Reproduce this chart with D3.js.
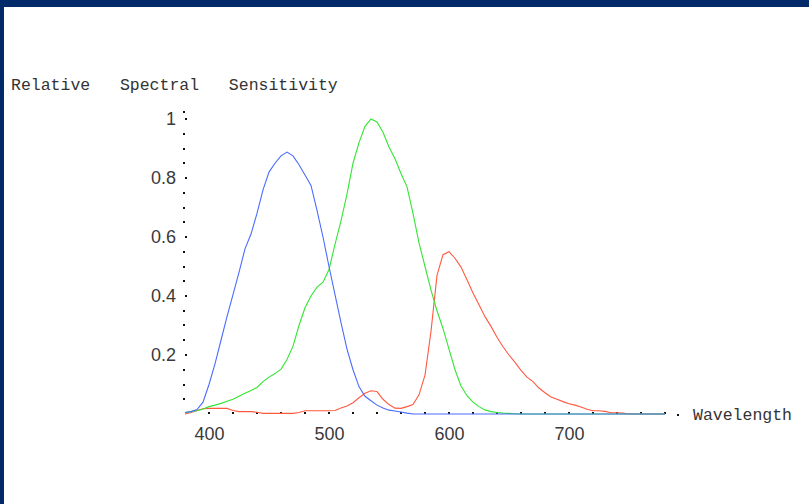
<!DOCTYPE html>
<html><head><meta charset="utf-8">
<script src="https://cdn.jsdelivr.net/npm/d3@7/dist/d3.min.js"></script>
<style>
html,body{margin:0;padding:0;background:#fff;}
svg{display:block;}
</style></head>
<body>
<svg id="c" width="809" height="504"></svg>
<script>
// wavelengths (nm), 5 nm steps 380..780
const wavelengths = d3.range(380, 781, 5);
// S-cone (blue)
const blueValues = [0.005,0.008,0.015,0.04,0.10,0.17,0.25,0.33,0.405,0.48,0.56,0.61,0.68,0.76,0.82,0.85,0.875,0.888,0.875,0.845,0.81,0.775,0.69,0.60,0.50,0.405,0.31,0.22,0.15,0.093,0.06,0.045,0.03,0.02,0.013,0.01,0.007,0.003,0.0,0,0,0,0,0,0,0,0,0,0,0,0,0,0,0,0,0,0,0,0,0,0,0,0,0,0,0,0,0,0,0,0,0,0,0,0,0,0,0,0,0,0];
// M-cone (green)
const greenValues = [0.005,0.008,0.011,0.017,0.025,0.03,0.036,0.043,0.05,0.06,0.07,0.08,0.09,0.11,0.125,0.137,0.152,0.185,0.23,0.30,0.36,0.40,0.43,0.447,0.49,0.575,0.655,0.745,0.85,0.92,0.975,1.0,0.99,0.955,0.905,0.865,0.815,0.77,0.68,0.58,0.50,0.42,0.35,0.29,0.22,0.15,0.095,0.062,0.04,0.025,0.014,0.008,0.005,0.003,0.002,0.001,0,0,0,0,0,0,0,0,0,0,0,0,0,0,0,0,0,0,0,0,0,0,0,0,0];
// L-cone (red)
const redValues = [0.0,0.005,0.012,0.018,0.019,0.019,0.019,0.019,0.012,0.008,0.008,0.008,0.006,0.002,0.002,0.002,0.002,0.002,0.002,0.005,0.011,0.011,0.011,0.011,0.011,0.012,0.02,0.027,0.038,0.055,0.07,0.079,0.076,0.05,0.032,0.02,0.019,0.025,0.032,0.065,0.132,0.28,0.47,0.54,0.55,0.528,0.498,0.455,0.41,0.37,0.33,0.297,0.26,0.228,0.20,0.175,0.148,0.125,0.11,0.088,0.072,0.058,0.05,0.042,0.035,0.03,0.024,0.016,0.011,0.011,0.009,0.004,0.004,0.003,0,0,0,0,0,0,0];
const xTickLabels = [400, 500, 600, 700];
const yTickLabels = [0.2, 0.4, 0.6, 0.8, 1];
const xDotTicks = d3.range(400, 781, 20);
const yDotTicks = d3.range(1, 21).map(i => i * 0.05);
const titleY = "Relative   Spectral   Sensitivity";
const titleX = "Wavelength";

const svg = d3.select("#c");
// frame
svg.append("rect").attr("x",0).attr("y",0).attr("width",809).attr("height",7).attr("fill","#022a69");
svg.append("rect").attr("x",0).attr("y",0).attr("width",4).attr("height",504).attr("fill","#022a69");

const x = d3.scaleLinear().domain([380, 780]).range([185, 665]);
const y = d3.scaleLinear().domain([0, 1]).range([414, 119]);

// axis dots
const g = svg.append("g");
g.selectAll(".xd").data(xDotTicks).join("rect")
  .attr("x", d => Math.round(x(d)) - 1).attr("y", 412).attr("width", 2).attr("height", 2).attr("fill", "#111");
g.append("rect").attr("x", 677).attr("y", 414).attr("width", 2).attr("height", 2).attr("fill", "#111");
g.selectAll(".yd").data(yDotTicks).join("rect")
  .attr("x", d => (Math.abs(d*5 - Math.round(d*5)) < 1e-6 ? 185 : 183))
  .attr("y", d => Math.round(y(d)) - 1).attr("width", 2).attr("height", 2).attr("fill", "#111");
g.append("rect").attr("x", 183).attr("y", Math.round(y(1.025)) - 1).attr("width", 2).attr("height", 2).attr("fill", "#111");

// tick labels via axes
const xAxis = d3.axisBottom(x).tickValues(xTickLabels).tickSize(0).tickPadding(0).tickFormat(d3.format("d"));
const xa = svg.append("g").attr("transform", "translate(0,427)").call(xAxis);
xa.select(".domain").remove();
xa.selectAll("text").attr("font-family", "Liberation Sans, Arial, sans-serif").attr("font-size", 18).attr("fill", "#3a3a3a").attr("dy", "0.71em");

const yAxis = d3.axisLeft(y).tickValues(yTickLabels).tickSize(0).tickPadding(0).tickFormat(d => d === 1 ? "1" : d3.format(".1f")(d));
const ya = svg.append("g").attr("transform", "translate(176,0)").call(yAxis);
ya.select(".domain").remove();
ya.selectAll("text").attr("font-family", "Liberation Sans, Arial, sans-serif").attr("font-size", 18).attr("fill", "#3a3a3a").attr("dy", "0.3em");

// titles
svg.append("text").attr("x", 11).attr("y", 90).attr("xml:space","preserve").style("white-space","pre")
  .attr("font-family", "Liberation Mono, Courier New, monospace").attr("font-size", 16.5).attr("fill", "#333").text(titleY);
svg.append("text").attr("x", 693).attr("y", 420)
  .attr("font-family", "Liberation Mono, Courier New, monospace").attr("font-size", 16.5).attr("fill", "#333").text(titleX);

// curves
const line = d3.line().x((d, i) => x(wavelengths[i])).y(d => y(d));
const series = [
  {vals: redValues, color: "#ff5a40"},
  {vals: greenValues, color: "#33e633"},
  {vals: blueValues, color: "#4a6cff"}
];
svg.selectAll(".curve").data(series).join("path")
  .attr("d", d => line(d.vals)).attr("fill", "none").attr("stroke", d => d.color).attr("stroke-width", 1.1);
</script>
</body></html>
